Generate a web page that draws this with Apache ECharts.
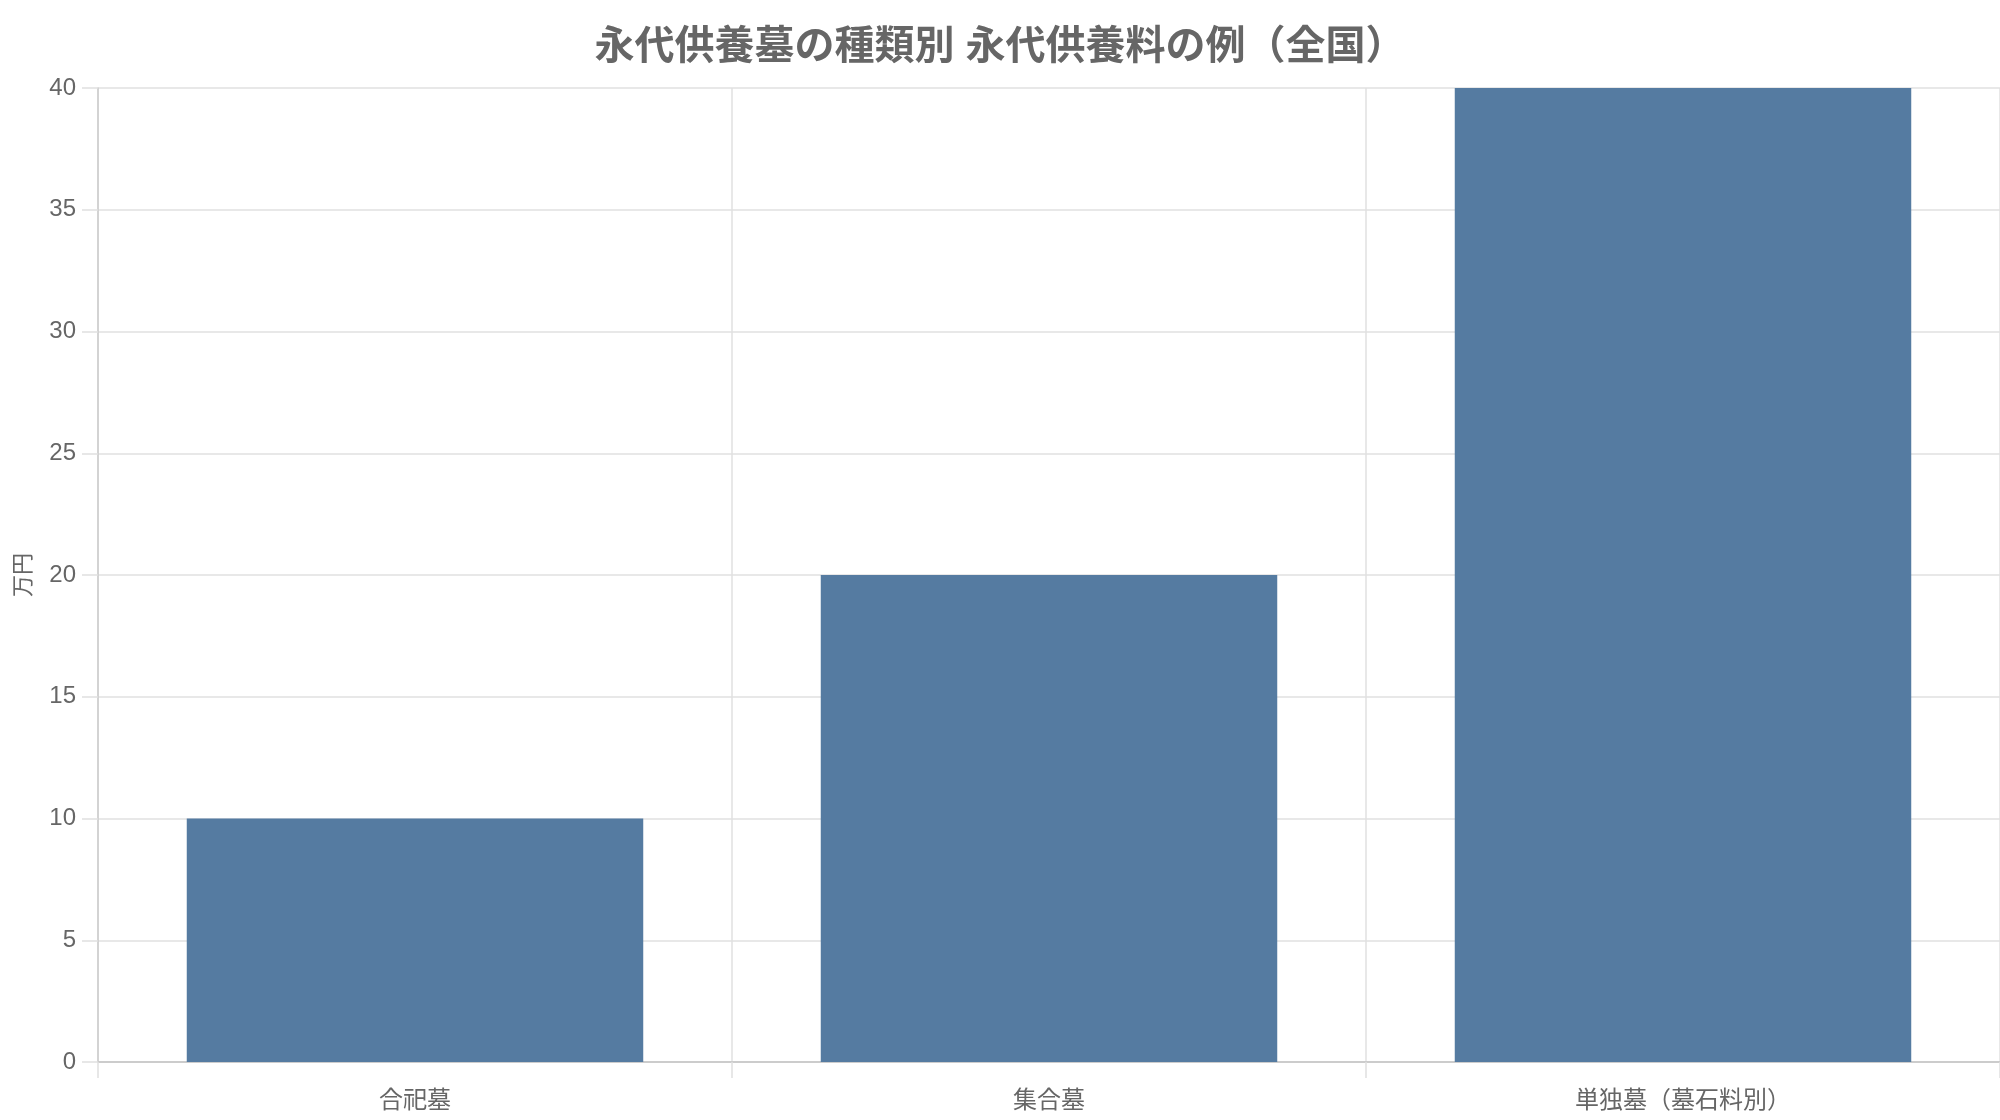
<!DOCTYPE html>
<html>
<head>
<meta charset="utf-8">
<script src="https://cdn.jsdelivr.net/npm/echarts@6/dist/echarts.min.js"></script>
<style>
html,body{margin:0;padding:0;background:#fff;}
#chart{width:2000px;height:1120px;}
</style>
</head>
<body>
<div id="chart"></div>
<script>
const titleText = '永代供養墓の種類別 永代供養料の例（全国）';
const categories = ['合祀墓', '集合墓', '単独墓（墓石料別）'];
const values = [10, 20, 40];
const yAxisName = '万円';

const FONT = '"Liberation Sans", Arial, "Noto Sans CJK JP", sans-serif';
const chart = echarts.init(document.getElementById('chart'));
chart.setOption({
  backgroundColor: '#ffffff',
  animation: false,
  title: {
    text: titleText,
    left: 'center',
    top: 23,
    textStyle: { fontFamily: FONT, fontSize: 40, fontWeight: 'bold', color: '#666666' }
  },
  grid: { left: 98, right: 0, top: 88, bottom: 58, containLabel: false },
  xAxis: {
    type: 'category',
    data: categories,
    axisLine: { show: true, lineStyle: { color: '#cccccc', width: 2 } },
    axisTick: { show: true, length: 16, lineStyle: { color: '#e0e0e0', width: 1.5 } },
    splitLine: { show: true, lineStyle: { color: '#e0e0e0', width: 1.5 } },
    axisLabel: { fontFamily: FONT, fontSize: 24, color: '#666666', margin: 27 }
  },
  yAxis: {
    type: 'value',
    min: 0,
    max: 40,
    interval: 5,
    name: yAxisName,
    nameLocation: 'middle',
    nameGap: 63,
    nameTextStyle: { fontFamily: FONT, fontSize: 22, color: '#666666' },
    axisLine: { show: true, lineStyle: { color: '#cccccc', width: 1.5 } },
    axisTick: { show: true, length: 16, lineStyle: { color: '#e0e0e0', width: 1.5 } },
    splitLine: { show: true, lineStyle: { color: '#e0e0e0', width: 1.5 } },
    axisLabel: { fontFamily: FONT, fontSize: 24, color: '#666666', margin: 22 }
  },
  series: [{
    type: 'bar',
    data: values,
    barWidth: '72%',
    itemStyle: { color: '#557ba1' }
  }]
});
</script>
</body>
</html>
